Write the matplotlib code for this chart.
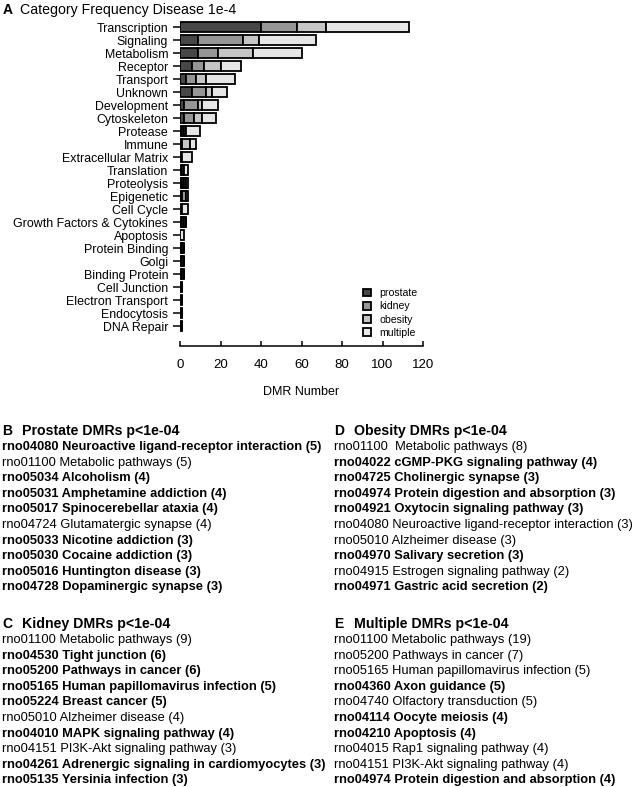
import matplotlib.pyplot as plt
import numpy as np

plt.rcParams['font.family'] = ['Liberation Sans', 'DejaVu Sans']

categories = ['Transcription', 'Signaling', 'Metabolism', 'Receptor', 'Transport',
              'Unknown', 'Development', 'Cytoskeleton', 'Protease', 'Immune',
              'Extracellular Matrix', 'Translation', 'Proteolysis', 'Epigenetic',
              'Cell Cycle', 'Growth Factors & Cytokines', 'Apoptosis',
              'Protein Binding', 'Golgi', 'Binding Protein', 'Cell Junction',
              'Electron Transport', 'Endocytosis', 'DNA Repair']
prostate = [40, 9, 9, 6, 3, 6, 2, 2, 1, 1, 1, 1, 1, 1, 0, 1, 0, 1, 1, 1, 1, 1, 1, 1]
kidney   = [18, 22, 10, 6, 5, 7, 7, 5, 1, 0, 0, 0, 1, 2, 0, 1, 0, 1, 1, 1, 0, 0, 0, 0]
obesity  = [14, 8, 17, 8, 5, 3, 2, 4, 1, 4, 0, 1, 1, 0, 1, 1, 0, 0, 0, 0, 0, 0, 0, 0]
multiple = [41, 28, 24, 10, 14, 7, 8, 7, 7, 3, 5, 2, 1, 1, 3, 0, 2, 0, 0, 0, 0, 0, 0, 0]
series = [('prostate', prostate, '#474747'), ('kidney', kidney, '#969696'),
          ('obesity', obesity, '#c6c6c6'), ('multiple', multiple, '#e6e6e6')]

# pathway lists: (text, bold)
prostate_list = [
    ('rno04080 Neuroactive ligand-receptor interaction (5)', True),
    ('rno01100 Metabolic pathways (5)', False),
    ('rno05034 Alcoholism (4)', True),
    ('rno05031 Amphetamine addiction (4)', True),
    ('rno05017 Spinocerebellar ataxia (4)', True),
    ('rno04724 Glutamatergic synapse (4)', False),
    ('rno05033 Nicotine addiction (3)', True),
    ('rno05030 Cocaine addiction (3)', True),
    ('rno05016 Huntington disease (3)', True),
    ('rno04728 Dopaminergic synapse (3)', True),
]
kidney_list = [
    ('rno01100 Metabolic pathways (9)', False),
    ('rno04530 Tight junction (6)', True),
    ('rno05200 Pathways in cancer (6)', True),
    ('rno05165 Human papillomavirus infection (5)', True),
    ('rno05224 Breast cancer (5)', True),
    ('rno05010 Alzheimer disease (4)', False),
    ('rno04010 MAPK signaling pathway (4)', True),
    ('rno04151 PI3K-Akt signaling pathway (3)', False),
    ('rno04261 Adrenergic signaling in cardiomyocytes (3)', True),
    ('rno05135 Yersinia infection (3)', True),
]
obesity_list = [
    ('rno01100  Metabolic pathways (8)', False),
    ('rno04022 cGMP-PKG signaling pathway (4)', True),
    ('rno04725 Cholinergic synapse (3)', True),
    ('rno04974 Protein digestion and absorption (3)', True),
    ('rno04921 Oxytocin signaling pathway (3)', True),
    ('rno04080 Neuroactive ligand-receptor interaction (3)', False),
    ('rno05010 Alzheimer disease (3)', False),
    ('rno04970 Salivary secretion (3)', True),
    ('rno04915 Estrogen signaling pathway (2)', False),
    ('rno04971 Gastric acid secretion (2)', True),
]
multiple_list = [
    ('rno01100 Metabolic pathways (19)', False),
    ('rno05200 Pathways in cancer (7)', False),
    ('rno05165 Human papillomavirus infection (5)', False),
    ('rno04360 Axon guidance (5)', True),
    ('rno04740 Olfactory transduction (5)', False),
    ('rno04114 Oocyte meiosis (4)', True),
    ('rno04210 Apoptosis (4)', True),
    ('rno04015 Rap1 signaling pathway (4)', False),
    ('rno04151 PI3K-Akt signaling pathway (4)', False),
    ('rno04974 Protein digestion and absorption (4)', True),
]

W, H = 637, 787
fig = plt.figure(figsize=(W / 100, H / 100), dpi=100)

# panel A
ax = fig.add_axes([180 / W, 1 - 346 / H, (423 - 180) / W, (346 - 20) / H])
y = np.arange(len(categories))
left = np.zeros(len(categories))
for name, vals, col in series:
    ax.barh(y, vals, left=left, height=0.8, color=col, edgecolor='black',
            linewidth=1.3, label=name)
    left += np.array(vals)

ax.set_ylim(len(categories) - 1 + 20 / 13, -7 / 13)
ax.set_xlim(0, 120)
ax.set_yticks(y)
ax.set_yticklabels(categories, fontsize=8.9)
ax.set_xticks(np.arange(0, 121, 20))
ax.tick_params(axis='x', direction='in', length=3.5, width=1.1, labelsize=9.5, pad=9)
ax.tick_params(axis='y', length=5, width=1.1, pad=3.5)
for s in ['top', 'right', 'left']:
    ax.spines[s].set_visible(False)
ax.spines['bottom'].set_linewidth(1.1)
ax.set_xlabel('DMR Number', fontsize=9, labelpad=11)

ax.legend(loc='upper left', bbox_to_anchor=(359 / W, 1 - 284 / H),
          bbox_transform=fig.transFigure, frameon=False, fontsize=7.6,
          handlelength=0.75, handleheight=0.75, handletextpad=0.8,
          labelspacing=0.3, borderaxespad=0)

fig.text(3 / W, 1 - 10 / H, 'A', fontsize=10, fontweight='bold', va='center')
fig.text(20 / W, 1 - 10 / H, 'Category Frequency Disease 1e-4', fontsize=10.2, va='center')


def draw_list(x, y0, letter, title, items):
    fig.text(x / W, 1 - y0 / H, letter, fontsize=10, fontweight='bold', va='center')
    fig.text((x + 20) / W, 1 - y0 / H, title, fontsize=10.2, fontweight='bold', va='center')
    for i, (txt, bold) in enumerate(items):
        fig.text(x / W, 1 - (y0 + 16 + i * 15.6) / H, txt, fontsize=9.3,
                 fontweight='bold' if bold else 'normal', va='center')


draw_list(2, 431, 'B', 'Prostate DMRs p<1e-04', prostate_list)
draw_list(2, 624, 'C', 'Kidney DMRs p<1e-04', kidney_list)
draw_list(334, 431, 'D', 'Obesity DMRs p<1e-04', obesity_list)
draw_list(334, 624, 'E', 'Multiple DMRs p<1e-04', multiple_list)

plt.savefig('out.png', dpi=100)
